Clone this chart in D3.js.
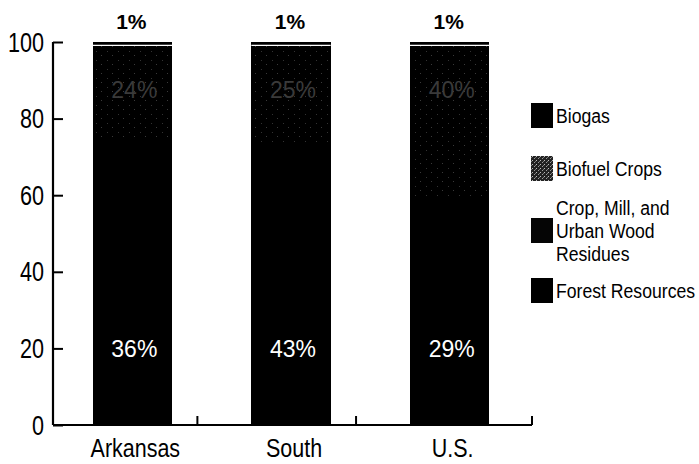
<!DOCTYPE html>
<html>
<head>
<meta charset="utf-8">
<script src="https://cdn.jsdelivr.net/npm/d3@7"></script>
<style>
  html, body { margin: 0; padding: 0; background: #fff; }
  svg { display: block; }
  text { font-family: "Liberation Sans", Arial, sans-serif; }
</style>
</head>
<body>
<svg id="chart" width="699" height="464"></svg>
<script>
const categories = ["Arkansas", "South", "U.S."];
const seriesNames = ["Forest Resources", "Crop, Mill, and Urban Wood Residues", "Biofuel Crops", "Biogas"];
const forest = [36, 43, 29];
const residues = [39, 31, 30];
const biofuel = [24, 25, 40];
const biogas = [1, 1, 1];
const yTicks = [0, 20, 40, 60, 80, 100];
const legendLines = [["Biogas"], ["Biofuel Crops"], ["Crop, Mill, and", "Urban Wood", "Residues"], ["Forest Resources"]];

const svg = d3.select("#chart");
const defs = svg.append("defs");

// sparse speckle for biofuel crops in the bars
const pat = defs.append("pattern").attr("id", "speckle").attr("patternUnits", "userSpaceOnUse")
  .attr("width", 11).attr("height", 9);
pat.append("rect").attr("width", 11).attr("height", 9).attr("fill", "#000");
pat.append("rect").attr("x", 2).attr("y", 1).attr("width", 1).attr("height", 1).attr("fill", "#3a3a3a");
pat.append("rect").attr("x", 8).attr("y", 6).attr("width", 1).attr("height", 1).attr("fill", "#333");

// denser speckle for the legend swatch
const patL = defs.append("pattern").attr("id", "speckleLegend").attr("patternUnits", "userSpaceOnUse")
  .attr("width", 4).attr("height", 4);
patL.append("rect").attr("width", 4).attr("height", 4).attr("fill", "#222");
patL.append("rect").attr("x", 0).attr("y", 0).attr("width", 1).attr("height", 1).attr("fill", "#bbb");
patL.append("rect").attr("x", 2).attr("y", 2).attr("width", 1).attr("height", 1).attr("fill", "#999");
patL.append("rect").attr("x", 3).attr("y", 1).attr("width", 1).attr("height", 1).attr("fill", "#777");

const fills = ["#000", "#000", "url(#speckle)", "#000"];
const legendFills = ["#000", "#050505", "url(#speckleLegend)", "#000"];

const x = d3.scaleBand().domain(categories).range([53, 529]).paddingInner(0.5).paddingOuter(0.25);
const y = d3.scaleLinear().domain([0, 100]).range([425, 42]);

// condensed text helper (reference uses a narrow typeface)
function narrowText(g, tx, ty, str, size, anchor, sx) {
  return g.append("text")
    .attr("transform", `translate(${tx},${ty}) scale(${sx},1)`)
    .attr("text-anchor", anchor).attr("font-size", size).text(str);
}

const rows = categories.map((c, i) => ({
  cat: c, "Forest Resources": forest[i], "Crop, Mill, and Urban Wood Residues": residues[i],
  "Biofuel Crops": biofuel[i], "Biogas": biogas[i]
}));
const stack = d3.stack().keys(seriesNames)(rows);

// bars
stack.forEach((layer, li) => {
  svg.append("g").attr("shape-rendering", "crispEdges").selectAll("rect").data(layer).join("rect")
    .attr("x", d => x(d.data.cat))
    .attr("y", d => Math.round(y(d[1])))
    .attr("width", x.bandwidth())
    .attr("height", d => Math.round(y(d[0])) - Math.round(y(d[1])))
    .attr("fill", fills[li]);
});
// white separator below biogas
const topLayer = stack[3];
svg.append("g").selectAll("line").data(topLayer).join("line")
  .attr("x1", d => x(d.data.cat)).attr("x2", d => x(d.data.cat) + x.bandwidth())
  .attr("y1", d => y(d[0]) - 0.5).attr("y2", d => y(d[0]) - 0.5)
  .attr("stroke", "#fff").attr("stroke-width", 1.2);

// y axis
const yAxis = d3.axisRight(y).tickValues(yTicks).tickSize(10).tickFormat("");
const ya = svg.append("g").attr("transform", "translate(53,0)").call(yAxis);
ya.select(".domain").remove();
ya.selectAll(".tick line").attr("stroke", "#000").attr("stroke-width", 2);
svg.append("line").attr("x1", 53).attr("x2", 53).attr("y1", y(100)).attr("y2", y(0))
  .attr("stroke", "#000").attr("stroke-width", 2.2);
const yl = svg.append("g");
yTicks.forEach(t => narrowText(yl, 44, y(t) + 9.5, t, 27, "end", 0.8));

// x axis
svg.append("line").attr("x1", 53).attr("x2", 532).attr("y1", y(0)).attr("y2", y(0))
  .attr("stroke", "#000").attr("stroke-width", 2.2);
const xTickPos = categories.map(c => x(c) + x.bandwidth() / 2 + x.step() * 0.41);
xTickPos[categories.length - 1] = x.range()[1] + 3;
svg.append("g").selectAll("line").data(xTickPos).join("line")
  .attr("x1", d => d).attr("x2", d => d).attr("y1", y(0)).attr("y2", y(0) - 9)
  .attr("stroke", "#000").attr("stroke-width", 2);
const xl = svg.append("g");
categories.forEach(c => narrowText(xl, x(c) + x.bandwidth() / 2 + 3, 457, c, 25, "middle", 0.86));

// value labels
svg.append("g").selectAll("text").data(categories).join("text")
  .attr("x", d => x(d) + x.bandwidth() / 2 - 1).attr("y", 29)
  .attr("text-anchor", "middle").attr("font-size", 21).attr("font-weight", "bold")
  .text((d, i) => biogas[i] + "%");
svg.append("g").selectAll("text").data(categories).join("text")
  .attr("x", d => x(d) + x.bandwidth() / 2 + 2).attr("y", y(87.5)).attr("dy", "0.35em")
  .attr("text-anchor", "middle").attr("font-size", 23).attr("fill", "#3a3a3a")
  .text((d, i) => biofuel[i] + "%");
svg.append("g").selectAll("text").data(categories).join("text")
  .attr("x", d => x(d) + x.bandwidth() / 2 + 2).attr("y", y(20)).attr("dy", "0.36em")
  .attr("text-anchor", "middle").attr("font-size", 23).attr("fill", "#fff")
  .text((d, i) => forest[i] + "%");

// legend
const legendCy = [115, 168, 230, 290];
const legendOrder = [3, 2, 1, 0];
const lg = svg.append("g");
legendLines.forEach((lines, i) => {
  const cy = legendCy[i];
  lg.append("rect").attr("x", 531).attr("y", cy - 12).attr("width", 22).attr("height", 25)
    .attr("fill", legendFills[legendOrder[i]]);
  const n = lines.length;
  lines.forEach((l, k) => {
    narrowText(lg, 556, cy + (k - (n - 1) / 2) * 23 + 7.5, l, 21, "start", 0.84);
  });
});
</script>
</body>
</html>
